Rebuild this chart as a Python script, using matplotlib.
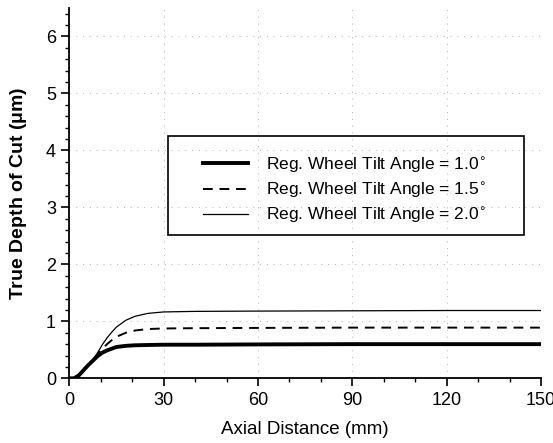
import numpy as np
import matplotlib
matplotlib.use('Agg')
import matplotlib.pyplot as plt
from matplotlib.ticker import MultipleLocator
from matplotlib.patches import Rectangle

plt.rcParams['font.family'] = ['Liberation Sans', 'DejaVu Sans']

# data
x = [0, 1.5, 3, 4.5, 6, 7.5, 9, 10.5, 12, 13.5, 15, 18, 21, 25, 30, 40, 60, 90, 120, 150]
depth_10 = [0, 0, 0.05, 0.14, 0.23, 0.31, 0.39, 0.45, 0.49, 0.52, 0.55, 0.57, 0.58,
            0.585, 0.59, 0.59, 0.595, 0.6, 0.6, 0.6]
depth_15 = [0, 0, 0.05, 0.14, 0.23, 0.32, 0.42, 0.52, 0.60, 0.67, 0.73, 0.80, 0.84,
            0.865, 0.875, 0.88, 0.885, 0.89, 0.89, 0.89]
depth_20 = [0, 0, 0.05, 0.14, 0.23, 0.33, 0.45, 0.59, 0.71, 0.81, 0.90, 1.02, 1.09,
            1.14, 1.165, 1.175, 1.18, 1.185, 1.19, 1.19]
labels = ['Reg. Wheel Tilt Angle = 1.0$^{\\circ}$',
          'Reg. Wheel Tilt Angle = 1.5$^{\\circ}$',
          'Reg. Wheel Tilt Angle = 2.0$^{\\circ}$']

fig = plt.figure(figsize=(5.53, 4.43), dpi=100)
ax = fig.add_axes([0.1253, 0.146, 0.853, 0.836])

ax.plot(x, depth_10, color='black', linewidth=2.8, label=labels[0])
ax.plot(x, depth_15, color='black', linewidth=1.4, linestyle=(0, (5, 3.5)), label=labels[1])
ax.plot(x, depth_20, color='black', linewidth=0.9, label=labels[2])

ax.set_xlim(0, 150)
ax.set_ylim(0, 6.5)
ax.xaxis.set_major_locator(MultipleLocator(30))
ax.xaxis.set_minor_locator(MultipleLocator(10))
ax.yaxis.set_major_locator(MultipleLocator(1))
ax.yaxis.set_minor_locator(MultipleLocator(0.2))
ax.tick_params(which='major', direction='out', length=6, width=1.2, labelsize=13)
ax.tick_params(which='minor', direction='out', length=3, width=1.0)
ax.grid(True, which='major', color='#b0b0b0', linestyle=(0, (1, 6)), linewidth=0.7)

for s in ['top', 'right']:
    ax.spines[s].set_visible(False)
for s in ['left', 'bottom']:
    ax.spines[s].set_linewidth(1.3)

ax.set_xlabel('Axial Distance (mm)', fontsize=13.5, labelpad=9)
ax.set_ylabel('True Depth of Cut ($\\mathregular{\\mu}$m)', fontsize=14,
              fontweight='bold', labelpad=12)

# legend without its own frame; frame drawn as a box in axes coords
leg = ax.legend(loc='upper left', bbox_to_anchor=(0.283, 0.604), fontsize=12.5,
                frameon=False, handlelength=2.6, handletextpad=1.05,
                borderpad=0, labelspacing=0.3, borderaxespad=0)
ax.add_patch(Rectangle((0.21, 0.387), 0.753, 0.268, transform=ax.transAxes,
                       fill=False, edgecolor='black', linewidth=1.2, zorder=5))

fig.savefig('out.png', dpi=100)
